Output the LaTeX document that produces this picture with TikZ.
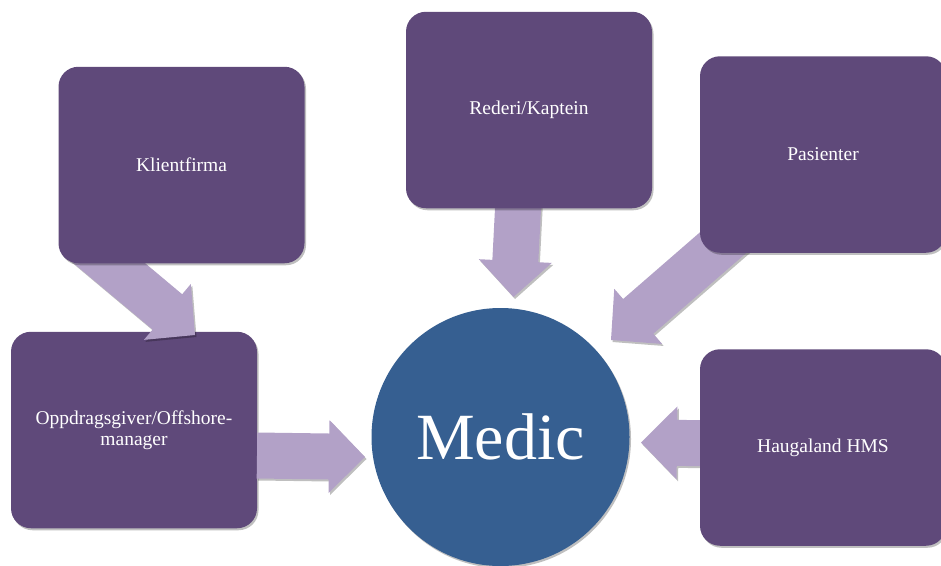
\documentclass[tikz,border=0pt]{standalone}
\usepackage{fontspec}
\setmainfont{Liberation Serif}
\usetikzlibrary{calc,shadows}
\definecolor{boxpurple}{HTML}{5F497A}
\definecolor{arrowlilac}{HTML}{B2A1C7}
\definecolor{medicblue}{HTML}{365F91}
\newcommand{\blockarrow}[2]{%
  \path (#1) coordinate (bs) (#2) coordinate (bt);
  \path ($(bt)!36pt!(bs)$) coordinate (bh);
  \path[flow] ($(bs)!23pt!90:(bt)$) -- ($(bh)!23pt!-90:(bs)$) -- ($(bh)!36.5pt!-90:(bs)$) -- (bt)
    -- ($(bh)!36.5pt!90:(bs)$) -- ($(bh)!23pt!90:(bs)$) -- ($(bs)!23pt!-90:(bt)$) -- cycle;
}
\begin{document}
\begin{tikzpicture}[x=1pt,y=-1pt,
  softshadow/.style={drop shadow={shadow xshift=1.5pt,shadow yshift=-2pt,opacity=0.25,fill=black}},
  entity/.style={rectangle, rounded corners=20pt, fill=boxpurple, minimum width=246pt,
    minimum height=196.5pt, inner sep=0pt, text=white, align=center,
    font=\fontsize{19.5}{21.5}\selectfont, softshadow},
  hub/.style={circle, fill=medicblue, minimum size=258pt, inner sep=0pt, text=white,
    font=\fontsize{66}{70}\selectfont, softshadow},
  flow/.style={fill=arrowlilac, softshadow}]
\useasboundingbox (0,0) rectangle (941,565);
\begin{scope}
\clip (0,0) rectangle (941,565);
\node[entity] (opp) at (134,430) {Oppdragsgiver/Offshore-\\manager};
% connector end points
\coordinate (k0) at (77.3,236.4);   \coordinate (k1) at (195,335);
\coordinate (o0) at (257,455.5);    \coordinate (o1) at (365,457);
\coordinate (r0) at (521,150);      \coordinate (r1) at (513.5,297);
\coordinate (p0) at (739.4,228.5);  \coordinate (p1) at (611,340);
\coordinate (h0) at (780,444);      \coordinate (h1) at (641,442.5);
\blockarrow{k0}{k1}
\blockarrow{o0}{o1}
\blockarrow{r0}{r1}
\blockarrow{p0}{p1}
\blockarrow{h0}{h1}
\node[entity] (klient) at (181.5,165) {Klientfirma};
\node[entity] (rederi) at (529,110) {Rederi/Kaptein};
\node[entity] (pas) at (823,154.5) {Pasienter};
\node[entity] (haug) at (823,447.5) {Haugaland HMS};
\node[hub] (medic) at (500.5,437) {Medic};
\end{scope}
\end{tikzpicture}
\end{document}
